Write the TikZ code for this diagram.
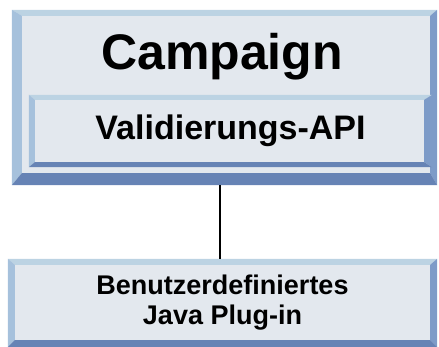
\documentclass[tikz,border=0pt]{standalone}
\usepackage{fontspec}
\setmainfont{Liberation Sans}
\usetikzlibrary{calc}
\definecolor{face}{HTML}{E3E8EE}
\definecolor{bvtop}{HTML}{BCD3E3}
\definecolor{bvleft}{HTML}{A6C1DC}
\definecolor{bvright}{HTML}{7D9BC8}
\definecolor{bvbottom}{HTML}{6683B5}
\def\boxnode{\node[fill=face,inner sep=0pt,align=center]}
% bevel round a box node: name, left, top, right, bottom
\newcommand\bevel[5]{%
  \fill[bvtop] (#1.north west) -- (#1.north east) -- ($ (#1.north east) + (-#4,-#3) $) -- ($ (#1.north west) + (#2,-#3) $) -- cycle;
  \fill[bvleft] (#1.north west) -- (#1.south west) -- ($ (#1.south west) + (#2,#5) $) -- ($ (#1.north west) + (#2,-#3) $) -- cycle;
  \fill[bvright] (#1.north east) -- (#1.south east) -- ($ (#1.south east) + (-#4,#5) $) -- ($ (#1.north east) + (-#4,-#3) $) -- cycle;
  \fill[bvbottom] (#1.south west) -- (#1.south east) -- ($ (#1.south east) + (-#4,#5) $) -- ($ (#1.south west) + (#2,#5) $) -- cycle;
}

\begin{document}
\begin{tikzpicture}[x=1pt,y=1pt]
\useasboundingbox (0,0) rectangle (439,347);

% Campaign box with the API inside
\boxnode[minimum width=425pt,minimum height=175pt] (campaign) at (224.5,249.5) {};
\bevel{campaign}{10}{6}{7}{12}
\node[font=\fontsize{50}{60}\selectfont\bfseries,anchor=base] (title) at (222,277) {Campaign};

\boxnode[minimum width=403pt,minimum height=72pt,font=\fontsize{34}{40}\selectfont\bfseries] (api) at (230.5,216) {Validierungs-API};
\bevel{api}{6}{5}{8}{5}

% the plug-in below
\boxnode[minimum width=429pt,minimum height=88pt,font=\fontsize{27}{30}\selectfont\bfseries] (plugin) at (222.5,44) {Benutzerdefiniertes\\Java Plug-in};
\bevel{plugin}{7}{6}{7}{7}

\draw[line width=2pt] ([xshift=-5pt]campaign.south) -- ([xshift=-5pt]campaign.south |- plugin.north);
\end{tikzpicture}
\end{document}
